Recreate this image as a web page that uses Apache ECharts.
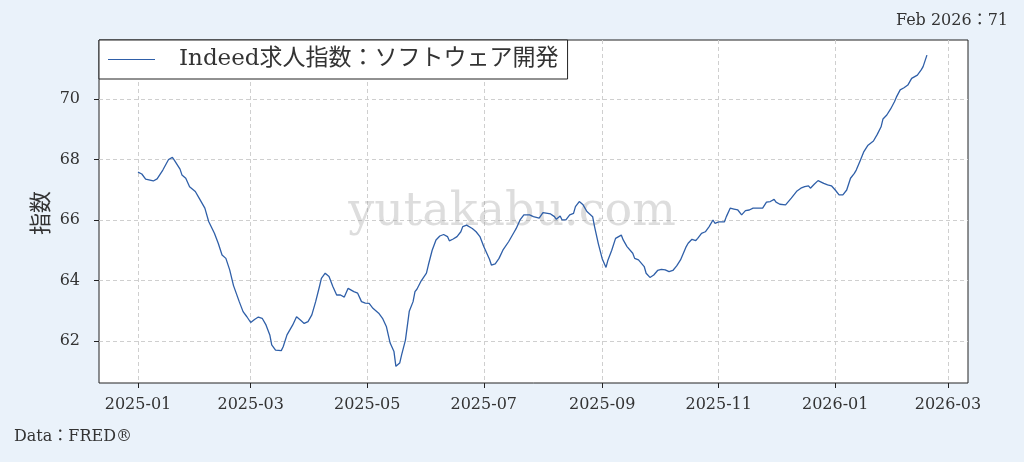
<!DOCTYPE html>
<html><head><meta charset="utf-8">
<script src="https://cdn.jsdelivr.net/npm/echarts@6/dist/echarts.min.js"></script>
<style>html,body{margin:0;padding:0;background:#eaf2fa;}#c{width:1024px;height:462px;}</style>
</head><body><div id="c"></div>
<script>
const dates = [
'2025-01-01','2025-01-03','2025-01-05','2025-01-09','2025-01-11','2025-01-14','2025-01-17','2025-01-19','2025-01-20','2025-01-23','2025-01-24','2025-01-26','2025-01-28','2025-01-31',
'2025-02-02','2025-02-05','2025-02-07','2025-02-10','2025-02-12','2025-02-14','2025-02-16','2025-02-18','2025-02-20','2025-02-21','2025-02-23','2025-02-25','2025-02-27',
'2025-03-01','2025-03-03','2025-03-05','2025-03-07','2025-03-09','2025-03-11','2025-03-12','2025-03-14','2025-03-17','2025-03-18','2025-03-20','2025-03-23','2025-03-25','2025-03-27','2025-03-29','2025-03-31',
'2025-04-02','2025-04-04','2025-04-06','2025-04-07','2025-04-09','2025-04-11','2025-04-13','2025-04-15','2025-04-17','2025-04-19','2025-04-21','2025-04-24','2025-04-26','2025-04-28','2025-04-30',
'2025-05-02','2025-05-04','2025-05-05','2025-05-07','2025-05-09','2025-05-11','2025-05-13','2025-05-15','2025-05-16','2025-05-18','2025-05-19','2025-05-21','2025-05-23','2025-05-25','2025-05-26','2025-05-27','2025-05-29',
'2025-06-01','2025-06-02','2025-06-04','2025-06-06','2025-06-08','2025-06-10','2025-06-12','2025-06-13','2025-06-15','2025-06-17','2025-06-19','2025-06-20','2025-06-22','2025-06-23','2025-06-25','2025-06-27','2025-06-29',
'2025-07-01','2025-07-04','2025-07-05','2025-07-07','2025-07-09','2025-07-11','2025-07-14','2025-07-17','2025-07-18','2025-07-20','2025-07-22','2025-07-25','2025-07-27','2025-07-30',
'2025-08-01','2025-08-02','2025-08-05','2025-08-07','2025-08-08','2025-08-10','2025-08-11','2025-08-13','2025-08-15','2025-08-17','2025-08-18','2025-08-20','2025-08-22','2025-08-24','2025-08-27','2025-08-28','2025-08-30',
'2025-09-01','2025-09-03','2025-09-04','2025-09-06','2025-09-08','2025-09-11','2025-09-12','2025-09-14','2025-09-17','2025-09-18','2025-09-20','2025-09-23','2025-09-24','2025-09-26','2025-09-28','2025-09-30',
'2025-10-02','2025-10-04','2025-10-06','2025-10-08','2025-10-10','2025-10-12','2025-10-15','2025-10-16','2025-10-18','2025-10-20','2025-10-21','2025-10-23','2025-10-25','2025-10-27','2025-10-29','2025-10-30',
'2025-11-01','2025-11-04','2025-11-05','2025-11-07','2025-11-09','2025-11-11','2025-11-13','2025-11-15','2025-11-17','2025-11-19','2025-11-22','2025-11-24','2025-11-26','2025-11-28','2025-11-30',
'2025-12-01','2025-12-03','2025-12-06','2025-12-07','2025-12-09','2025-12-12','2025-12-14','2025-12-16','2025-12-18','2025-12-19','2025-12-21','2025-12-23','2025-12-24','2025-12-26','2025-12-28','2025-12-30',
'2026-01-01','2026-01-03','2026-01-04','2026-01-05','2026-01-07','2026-01-09','2026-01-11','2026-01-12','2026-01-14','2026-01-16','2026-01-18','2026-01-19','2026-01-21','2026-01-23','2026-01-25','2026-01-26','2026-01-28','2026-01-30',
'2026-02-01','2026-02-02','2026-02-04','2026-02-06','2026-02-08','2026-02-10','2026-02-11','2026-02-13','2026-02-15','2026-02-16','2026-02-18'
];
const values = [
67.58,67.52,67.35,67.29,67.36,67.65,68.00,68.07,67.98,67.68,67.49,67.38,67.10,66.94,
66.72,66.39,65.95,65.56,65.23,64.84,64.73,64.35,63.83,63.79,63.30,62.97,62.80,
62.61,62.71,62.79,62.75,62.53,62.20,61.87,61.70,61.68,61.81,62.20,62.53,62.80,62.69,62.58,62.64,
62.86,63.30,63.80,64.07,64.24,64.13,63.80,63.52,63.52,63.45,63.74,63.63,63.58,63.30,63.25,
63.24,63.08,63.11,62.92,62.75,62.48,61.93,61.65,61.16,61.27,61.54,62.03,62.98,63.30,63.63,63.71,63.96,
64.24,64.51,65.00,65.34,65.47,65.52,65.45,65.31,65.37,65.45,65.61,65.78,65.83,65.87,65.72,65.61,65.45,
65.12,64.70,64.51,64.55,64.73,65.00,65.28,65.61,65.72,66.00,66.17,66.17,66.11,66.06,
66.24,66.28,66.20,66.11,66.02,66.13,66.00,66.00,66.17,66.22,66.44,66.61,66.50,66.28,66.11,65.78,65.21,
64.72,64.43,64.67,65.00,65.39,65.50,65.34,65.12,64.90,64.73,64.68,64.46,64.24,64.10,64.18,64.33,
64.37,64.35,64.29,64.33,64.48,64.68,65.12,65.23,65.36,65.32,65.39,65.56,65.61,65.78,66.00,65.89,
65.94,65.94,66.11,66.39,66.36,66.33,66.17,66.31,66.33,66.39,66.39,66.39,66.59,66.61,66.68,
66.59,66.52,66.50,66.52,66.72,66.96,67.05,67.10,67.13,67.05,67.18,67.30,67.27,67.21,67.16,67.13,
66.99,66.83,66.77,66.83,66.99,67.38,67.54,67.65,67.95,68.26,68.46,68.51,68.61,68.83,69.08,69.34,69.47,69.67,
69.91,70.06,70.30,70.37,70.46,70.68,70.64,70.79,70.96,71.07,71.45
];
const xTickLabels = ['2025-01','2025-03','2025-05','2025-07','2025-09','2025-11','2026-01','2026-03'];
const yTickValues = [62,64,66,68,70];
const seriesName = 'Indeed求人指数：ソフトウェア開発';
const yAxisName = '指数';
const latestNote = 'Feb 2026：71';
const sourceNote = 'Data：FRED®';
const watermark = 'yutakabu.com';

function ts(s){const p=s.split('-');return Date.UTC(+p[0],+p[1]-1,p[2]?+p[2]:1);}
const FONT = '"DejaVu Serif","Liberation Serif","Noto Sans CJK JP",serif';
const seriesData = dates.map((d,i)=>[ts(d),values[i]]);
const xTicks = xTickLabels.map(ts);
const chart = echarts.init(document.getElementById('c'),null,{renderer:'canvas'});
chart.setOption({
  animation:false,
  backgroundColor:'#eaf2fa',
  textStyle:{fontFamily:FONT},
  grid:{left:99,right:56,top:40,bottom:79,show:true,backgroundColor:'#ffffff',borderColor:'#222',borderWidth:1},
  legend:{left:99,top:40,backgroundColor:'#fff',borderColor:'#222',borderWidth:1,borderRadius:0,
    padding:[8,9,8,9],itemWidth:47,itemHeight:14,
    textStyle:{fontFamily:FONT,fontSize:23,color:'#333',padding:[0,0,0,19]},
    data:[{name:seriesName,icon:'path://M0,7L47,7L47,8L0,8Z'}]},
  xAxis:{type:'value',min:Date.UTC(2024,11,11,14),max:Date.UTC(2026,2,11,12),
    axisLine:{show:false},
    axisTick:{show:true,length:5,lineStyle:{color:'#222'},customValues:xTicks},
    axisLabel:{customValues:xTicks,fontFamily:FONT,fontSize:16,color:'#333',margin:14,
      formatter:v=>{const d=new Date(v);return d.getUTCFullYear()+'-'+String(d.getUTCMonth()+1).padStart(2,'0');}},
    splitLine:{show:true,lineStyle:{color:'#cfcfcf',type:[4,3],width:1}}},
  yAxis:{type:'value',min:60.61,max:71.95,
    axisLine:{show:false},
    axisTick:{show:true,length:5,lineStyle:{color:'#222'},customValues:yTickValues},
    axisLabel:{customValues:yTickValues,fontFamily:FONT,fontSize:16,color:'#333',margin:19},
    splitLine:{show:true,lineStyle:{color:'#cfcfcf',type:[4,3],width:1}}},
  graphic:[
    {type:'text',left:'center',top:190,z:1,silent:true,
      style:{text:watermark,font:'46px "DejaVu Serif",serif',fill:'rgba(150,150,150,0.32)'}},
    {type:'text',x:42,y:213,rotation:Math.PI/2,z:10,
      style:{text:yAxisName,font:'22px '+FONT,fill:'#333',align:'center',verticalAlign:'middle'}},
    {type:'text',right:16,top:13,z:10,style:{text:latestNote,font:'16px '+FONT,fill:'#333'}},
    {type:'text',left:14,top:429,z:10,style:{text:sourceNote,font:'16px '+FONT,fill:'#333'}}
  ],
  series:[{name:seriesName,type:'line',data:seriesData,showSymbol:false,symbol:'none',z:5,
    lineStyle:{color:'#2f5fa8',width:1.3},itemStyle:{color:'#2f5fa8'}}]
});
</script></body></html>
